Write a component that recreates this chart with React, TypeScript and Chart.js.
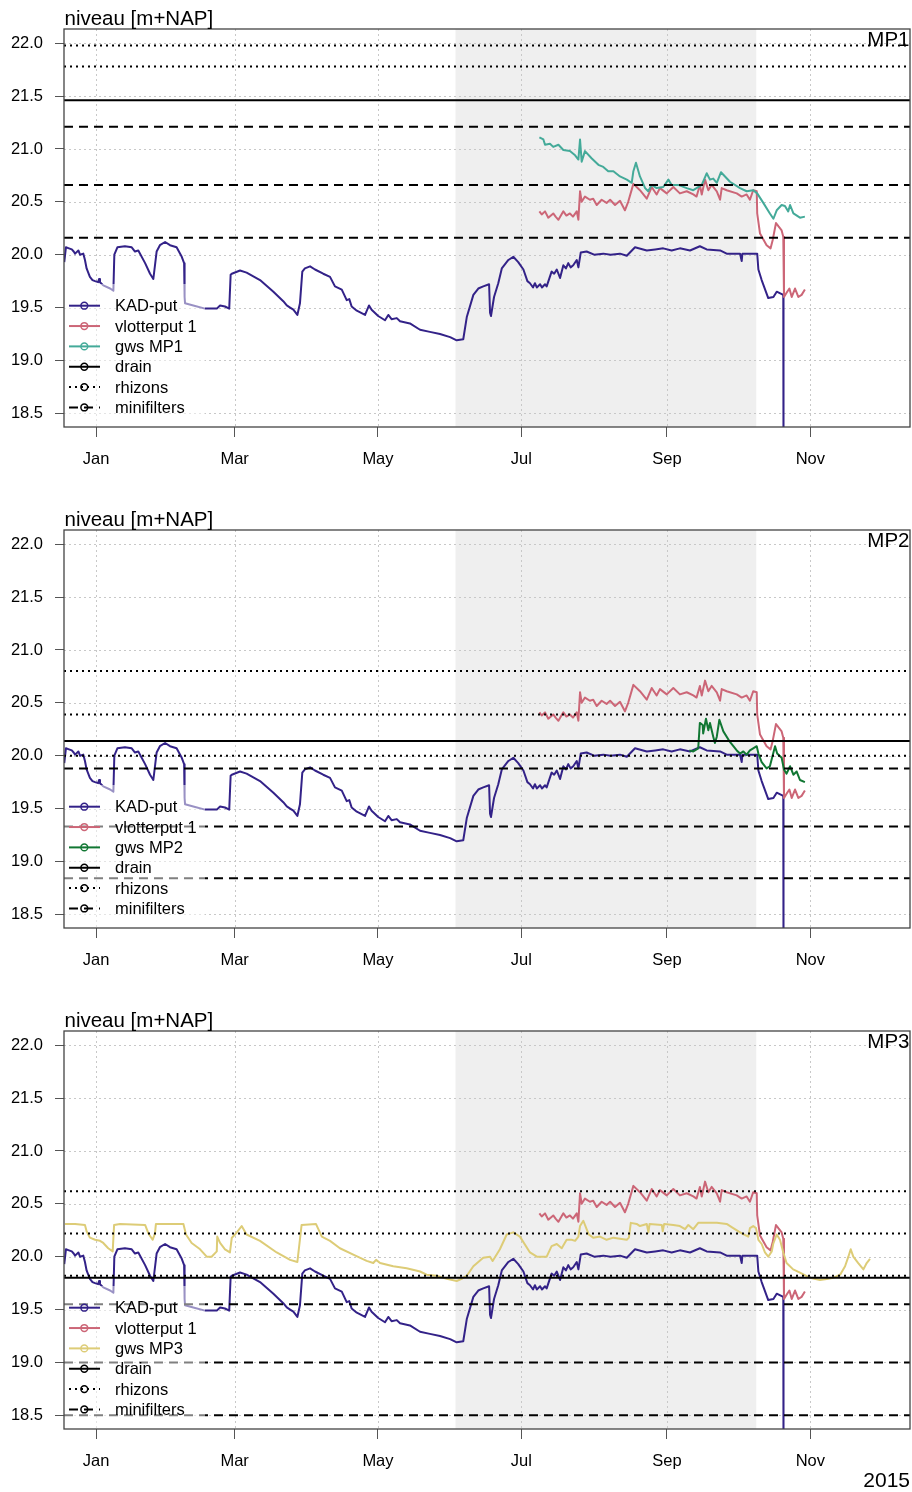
import React, { useEffect, useRef } from 'react';
import { Chart, registerables } from 'chart.js';

Chart.register(...registerables);

const FONT = '"Liberation Sans", Arial, Helvetica, sans-serif';

// ---- axes ----
const monthTickDays = [0, 59, 120, 181, 243, 304];
const monthTickLabels = ['Jan', 'Mar', 'May', 'Jul', 'Sep', 'Nov'];
const levelTicks = [18.5, 19.0, 19.5, 20.0, 20.5, 21.0, 21.5, 22.0];
const dayRange = [-13.62, 346.43];
const levelRange = [18.37, 22.135];
const shadedPeriod = [153, 281];
const yearLabel = '2015';

// ---- series: [day of 2015 (0 = 1 Jan), level m+NAP] ----
const kadPut: [number, number][] = [
  [-13.5, 19.93], [-12.8, 20.07], [-11.5, 20.06], [-10.3, 20.05], [-9.5, 20.03], [-8.9, 20.01], [-7.5, 20.04],
  [-6.8, 20.0], [-5.4, 20.01], [-4.7, 19.95], [-4.0, 19.87], [-2.6, 19.79], [-1.5, 19.76], [-0.4, 19.75],
  [0.9, 19.74], [1.3, 19.77], [1.7, 19.74], [3.1, 19.71], [6.0, 19.68], [7.4, 19.66], [7.8, 20.0], [9.1, 20.07],
  [12.3, 20.08], [15.2, 20.07], [16.6, 20.03], [18.0, 20.04], [20.9, 19.92], [23.0, 19.82], [24.4, 19.77],
  [25.8, 20.03], [27.2, 20.09], [29.4, 20.12], [31.5, 20.09], [34.3, 20.07], [36.5, 19.98], [37.5, 19.92],
  [37.7, 19.6], [37.9, 19.54], [41.4, 19.52], [46.4, 19.49], [51.4, 19.49], [52.8, 19.52], [54.9, 19.51],
  [56.7, 19.49], [57.3, 19.81], [57.8, 19.82], [61.3, 19.85], [64.1, 19.83], [69.8, 19.76], [75.5, 19.65],
  [79.7, 19.56], [81.2, 19.52], [82.6, 19.5], [84.0, 19.48], [85.7, 19.43], [86.8, 19.54], [87.8, 19.84],
  [88.9, 19.87], [91.1, 19.89], [93.2, 19.86], [96.7, 19.82], [99.6, 19.79], [101.7, 19.7], [104.6, 19.67],
  [106.7, 19.57], [107.8, 19.58], [108.8, 19.51], [111.0, 19.47], [114.5, 19.43], [116.2, 19.52], [117.3, 19.48],
  [120.1, 19.42], [123.0, 19.38], [124.4, 19.43], [125.8, 19.39], [128.0, 19.4], [129.4, 19.37], [133.6, 19.35],
  [137.9, 19.29], [142.1, 19.27], [146.4, 19.25], [150.7, 19.22], [153.5, 19.19], [156.3, 19.2], [157.8, 19.41],
  [160.6, 19.62], [162.7, 19.68], [164.8, 19.7], [167.3, 19.72], [167.7, 19.45], [168.1, 19.42], [169.4, 19.6],
  [171.2, 19.73], [172.7, 19.87], [175.5, 19.95], [177.6, 19.98], [179.7, 19.93], [181.9, 19.86], [183.6, 19.75],
  [184.7, 19.73], [186.0, 19.69], [186.8, 19.73], [187.6, 19.69], [189.0, 19.72], [189.8, 19.69], [191.1, 19.72],
  [191.8, 19.7], [193.9, 19.84], [195.0, 19.82], [196.1, 19.86], [197.5, 19.78], [198.9, 19.9], [200.0, 19.87],
  [201.0, 19.92], [202.0, 19.88], [203.1, 19.9], [204.6, 19.95], [205.3, 19.88], [206.3, 20.02], [208.8, 20.03],
  [212.0, 20.0], [215.9, 20.01], [219.0, 20.0], [223.0, 20.01], [225.9, 19.99], [229.4, 20.07], [234.4, 20.04],
  [238.0, 20.05], [241.4, 20.06], [245.0, 20.04], [248.5, 20.06], [252.8, 20.04], [257.0, 20.08], [259.9, 20.05],
  [265.6, 20.04], [268.4, 20.01], [274.1, 20.01], [274.8, 19.94], [275.1, 20.01], [281.4, 20.01], [281.9, 19.86],
  [283.3, 19.76], [286.1, 19.59], [288.3, 19.6], [289.7, 19.65], [292.5, 19.62], [292.6, 18.0],
];

const vlotterput1: [number, number][] = [
  [188.7, 20.41], [189.7, 20.38], [191.1, 20.41], [192.5, 20.35], [194.6, 20.39], [195.6, 20.36], [196.8, 20.33],
  [198.9, 20.41], [200.2, 20.37], [201.7, 20.39], [203.0, 20.36], [204.6, 20.41], [205.3, 20.33], [206.0, 20.6],
  [206.7, 20.5], [208.1, 20.55], [210.2, 20.52], [211.6, 20.53], [213.1, 20.47], [215.2, 20.52], [217.3, 20.49],
  [218.8, 20.52], [220.9, 20.47], [223.0, 20.51], [225.1, 20.42], [226.5, 20.5], [228.7, 20.67], [231.5, 20.61],
  [234.4, 20.53], [236.5, 20.64], [238.6, 20.57], [240.0, 20.63], [242.9, 20.58], [245.7, 20.64], [248.5, 20.58],
  [251.4, 20.6], [254.2, 20.57], [255.6, 20.55], [257.0, 20.66], [257.8, 20.57], [259.2, 20.71], [260.6, 20.61],
  [262.0, 20.66], [264.2, 20.6], [265.6, 20.52], [266.3, 20.63], [268.4, 20.61], [272.7, 20.58], [274.8, 20.55],
  [276.9, 20.57], [278.3, 20.52], [279.7, 20.61], [281.2, 20.6], [281.4, 20.39], [282.6, 20.2], [285.4, 20.09],
  [287.1, 20.06], [288.0, 20.14], [289.4, 20.3], [290.4, 20.27], [291.8, 20.23], [292.5, 20.17], [292.8, 19.6],
  [293.9, 19.64], [295.1, 19.68], [296.1, 19.6], [297.5, 19.68], [298.9, 19.6], [300.3, 19.62], [301.7, 19.67],
];

const gwsMP1: [number, number][] = [
  [188.7, 21.11], [190.4, 21.09], [191.1, 21.04], [193.2, 21.05], [194.6, 21.02], [196.8, 21.04], [198.9, 20.99],
  [201.7, 20.98], [203.9, 20.94], [205.3, 20.9], [206.0, 21.09], [206.7, 20.88], [208.1, 20.98], [211.0, 20.91],
  [213.8, 20.85], [215.9, 20.83], [218.0, 20.79], [220.2, 20.79], [223.0, 20.74], [225.9, 20.71], [228.0, 20.68],
  [228.7, 20.79], [229.8, 20.87], [231.5, 20.74], [233.7, 20.63], [235.0, 20.6], [236.5, 20.66], [238.6, 20.63],
  [241.4, 20.64], [243.6, 20.71], [245.0, 20.66], [247.8, 20.66], [251.4, 20.63], [254.2, 20.61], [257.8, 20.66],
  [259.9, 20.77], [261.3, 20.71], [262.7, 20.72], [264.2, 20.68], [266.0, 20.78], [267.7, 20.74], [269.8, 20.69],
  [274.1, 20.63], [276.9, 20.6], [279.7, 20.61], [281.4, 20.58], [284.0, 20.49], [286.8, 20.39], [288.3, 20.34],
  [289.7, 20.42], [291.8, 20.47], [293.2, 20.46], [294.6, 20.41], [295.4, 20.47], [296.8, 20.39], [299.6, 20.35],
  [301.7, 20.36],
];

const gwsMP2: [number, number][] = [
  [252.5, 20.05], [254.2, 20.04], [256.3, 20.07], [257.0, 20.31], [258.2, 20.29], [258.4, 20.21], [259.6, 20.35],
  [260.6, 20.24], [261.3, 20.31], [262.7, 20.18], [263.4, 20.12], [264.2, 20.18], [265.3, 20.34], [267.0, 20.23],
  [269.8, 20.13], [272.7, 20.05], [274.1, 20.02], [275.5, 20.04], [276.9, 20.01], [278.3, 20.05], [279.7, 20.07],
  [281.2, 20.09], [281.9, 20.02], [283.3, 19.94], [285.4, 19.88], [286.8, 19.9], [289.0, 20.09], [289.9, 20.02],
  [291.8, 19.98], [292.8, 19.87], [293.9, 19.83], [295.4, 19.9], [296.8, 19.82], [298.2, 19.85], [299.6, 19.77],
  [301.7, 19.75],
];

const gwsMP3: [number, number][] = [
  [-13.2, 20.31], [-8.9, 20.31], [-4.7, 20.3], [-4.0, 20.24], [-2.6, 20.18], [-0.4, 20.16], [1.7, 20.15],
  [3.1, 20.13], [5.2, 20.08], [7.1, 20.05], [7.7, 20.3], [10.2, 20.31], [20.9, 20.3], [22.3, 20.22], [24.1, 20.16],
  [25.1, 20.22], [25.5, 20.31], [37.2, 20.31], [38.3, 20.21], [40.7, 20.13], [44.3, 20.07], [47.1, 20.0],
  [49.2, 20.0], [51.4, 20.05], [51.6, 20.19], [52.8, 20.13], [54.9, 20.07], [57.0, 20.04], [57.8, 20.18],
  [59.2, 20.21], [62.0, 20.29], [64.1, 20.21], [69.8, 20.15], [76.9, 20.04], [82.6, 19.97], [85.7, 19.95],
  [87.5, 20.3], [93.6, 20.31], [96.1, 20.19], [99.6, 20.15], [103.8, 20.08], [109.5, 20.02], [115.2, 19.96],
  [118.0, 19.94], [119.2, 19.97], [120.9, 19.94], [126.5, 19.91], [132.2, 19.89], [137.9, 19.86], [140.7, 19.83],
  [145.0, 19.82], [149.3, 19.79], [153.5, 19.77], [155.6, 19.79], [157.8, 19.82], [160.6, 19.91], [164.8, 19.99],
  [167.7, 20.0], [168.8, 19.96], [171.9, 20.07], [174.8, 20.21], [177.6, 20.23], [180.4, 20.19], [184.7, 20.04],
  [187.6, 20.0], [191.8, 20.0], [193.9, 20.1], [196.1, 20.12], [198.2, 20.08], [200.3, 20.16], [202.4, 20.16],
  [203.9, 20.15], [205.3, 20.19], [206.0, 20.29], [207.4, 20.34], [208.8, 20.26], [209.7, 20.21], [211.6, 20.18],
  [214.5, 20.19], [217.3, 20.16], [220.2, 20.18], [223.0, 20.17], [225.9, 20.16], [226.8, 20.18], [227.6, 20.32],
  [230.1, 20.31], [231.5, 20.29], [234.4, 20.31], [235.1, 20.23], [235.6, 20.31], [240.8, 20.3], [241.2, 20.24],
  [241.8, 20.31], [245.7, 20.3], [248.5, 20.29], [250.7, 20.26], [252.1, 20.3], [254.2, 20.26], [256.3, 20.32],
  [259.9, 20.32], [264.2, 20.32], [268.4, 20.31], [271.2, 20.27], [274.8, 20.22], [277.6, 20.19], [278.3, 20.27],
  [279.7, 20.29], [280.9, 20.27], [281.9, 20.16], [283.3, 20.12], [284.7, 20.04], [286.1, 20.0], [287.6, 20.05],
  [288.2, 20.12], [289.7, 20.21], [291.1, 20.16], [292.5, 20.04], [293.9, 19.94], [296.7, 19.88], [299.6, 19.85],
  [303.9, 19.8], [308.1, 19.78], [311.0, 19.79], [313.8, 19.8], [316.7, 19.83], [318.8, 19.91], [320.2, 20.0],
  [321.2, 20.07], [322.3, 20.0], [324.4, 19.94], [326.6, 19.88], [328.0, 19.94], [329.4, 19.98],
];

// ---- reference levels per measuring point ----
const drainMP1 = [21.46];
const rhizonsMP1 = [21.98, 21.78];
const minifiltersMP1 = [21.21, 20.66, 20.16];
const drainMP2 = [20.14];
const rhizonsMP2 = [20.8, 20.39, 20.0];
const minifiltersMP2 = [19.88, 19.33, 18.84];
const drainMP3 = [19.8];
const rhizonsMP3 = [20.62, 20.22, 19.82];
const minifiltersMP3 = [19.55, 19.0, 18.5];

const KAD_COLOR = '#332288';
const ROSE = '#CC6677';
const TEAL = '#44AA99';
const GREEN = '#117733';
const SAND = '#DDCC77';
const DOTTED = [2, 4];
const DASHED = [9, 6];
const SERIES_W = 2;

type Panel = {
  name: string;
  gwsLabel: string;
  gws: [number, number][];
  gwsColor: string;
  drain: number[];
  rhizons: number[];
  minifilters: number[];
  height: number;
  showYear: boolean;
};

const panels: Panel[] = [
  { name: 'MP1', gwsLabel: 'gws MP1', gws: gwsMP1, gwsColor: TEAL, drain: drainMP1, rhizons: rhizonsMP1, minifilters: minifiltersMP1, height: 501, showYear: false },
  { name: 'MP2', gwsLabel: 'gws MP2', gws: gwsMP2, gwsColor: GREEN, drain: drainMP2, rhizons: rhizonsMP2, minifilters: minifiltersMP2, height: 501, showYear: false },
  { name: 'MP3', gwsLabel: 'gws MP3', gws: gwsMP3, gwsColor: SAND, drain: drainMP3, rhizons: rhizonsMP3, minifilters: minifiltersMP3, height: 490, showYear: true },
];

const TOP_PAD = 29;
const PLOT_H = 398;

const toXY = (arr: [number, number][]) => arr.map(([x, y]) => ({ x, y }));
const hLine = (v: number) => [{ x: dayRange[0], y: v }, { x: dayRange[1], y: v }];

function makeDecorPlugin(panel: Panel) {
  const legendItems = [
    { label: 'KAD-put', color: KAD_COLOR, dash: [] as number[] },
    { label: 'vlotterput 1', color: ROSE, dash: [] as number[] },
    { label: panel.gwsLabel, color: panel.gwsColor, dash: [] as number[] },
    { label: 'drain', color: '#000', dash: [] as number[] },
    { label: 'rhizons', color: '#000', dash: DOTTED },
    { label: 'minifilters', color: '#000', dash: DASHED },
  ];
  return {
    id: 'decor' + panel.name,
    beforeDatasetsDraw(chart: any) {
      const { ctx, chartArea: a, scales } = chart;
      const xs = scales.x;
      const ys = scales.y;
      ctx.save();
      const s0 = xs.getPixelForValue(shadedPeriod[0]);
      const s1 = xs.getPixelForValue(shadedPeriod[1]);
      ctx.fillStyle = '#efefef';
      ctx.fillRect(s0, a.top, s1 - s0, a.bottom - a.top);
      ctx.strokeStyle = '#c8c8c8';
      ctx.lineWidth = 1;
      ctx.setLineDash([2, 3]);
      monthTickDays.forEach((d) => {
        const px = Math.round(xs.getPixelForValue(d)) + 0.5;
        ctx.beginPath();
        ctx.moveTo(px, a.top);
        ctx.lineTo(px, a.bottom);
        ctx.stroke();
      });
      levelTicks.forEach((v) => {
        const py = Math.round(ys.getPixelForValue(v)) + 0.5;
        ctx.beginPath();
        ctx.moveTo(a.left, py);
        ctx.lineTo(a.right, py);
        ctx.stroke();
      });
      ctx.restore();
    },
    afterDatasetsDraw(chart: any) {
      const { ctx, chartArea: a } = chart;
      ctx.save();
      // legend (semi-transparent box, bottom-left)
      const boxH = 143;
      ctx.fillStyle = 'rgba(255,255,255,0.5)';
      ctx.fillRect(a.left, a.bottom - boxH, 141, boxH);
      ctx.font = '16.5px ' + FONT;
      ctx.textBaseline = 'middle';
      ctx.textAlign = 'left';
      legendItems.forEach((it, i) => {
        const y = a.bottom - 121.3 + i * 20.35;
        ctx.strokeStyle = it.color;
        ctx.lineWidth = 2;
        ctx.setLineDash(it.dash);
        ctx.beginPath();
        ctx.moveTo(a.left + 5, y);
        ctx.lineTo(a.left + 36, y);
        ctx.stroke();
        ctx.setLineDash([]);
        ctx.lineWidth = 1.5;
        ctx.beginPath();
        ctx.arc(a.left + 20.3, y, 3.4, 0, Math.PI * 2);
        ctx.stroke();
        ctx.fillStyle = '#000';
        ctx.fillText(it.label, a.left + 51, y + 1);
      });
      // plot box
      ctx.setLineDash([]);
      ctx.strokeStyle = '#444';
      ctx.lineWidth = 1.3;
      ctx.strokeRect(a.left, a.top, a.right - a.left, a.bottom - a.top);
      // texts
      ctx.fillStyle = '#000';
      ctx.font = '20.5px ' + FONT;
      ctx.textBaseline = 'alphabetic';
      ctx.textAlign = 'left';
      ctx.fillText('niveau [m+NAP]', a.left + 0.5, a.top - 4);
      ctx.textAlign = 'right';
      ctx.fillText(panel.name, a.right - 0.5, a.top + 16.7);
      if (panel.showYear) {
        ctx.font = '21px ' + FONT;
        ctx.fillText(yearLabel, a.right, chart.height - 5);
      }
      ctx.restore();
    },
  };
}

function buildConfig(panel: Panel): any {
  const refSets: any[] = [];
  panel.drain.forEach((v) =>
    refSets.push({ label: 'drain', data: hLine(v), borderColor: '#000', borderWidth: 2, borderDash: [], order: 0 })
  );
  panel.rhizons.forEach((v) =>
    refSets.push({ label: 'rhizons', data: hLine(v), borderColor: '#000', borderWidth: 2, borderDash: DOTTED, order: 0 })
  );
  panel.minifilters.forEach((v) =>
    refSets.push({ label: 'minifilters', data: hLine(v), borderColor: '#000', borderWidth: 2, borderDash: DASHED, order: 0 })
  );
  const seriesSets = [
    { label: 'KAD-put', data: toXY(kadPut), borderColor: KAD_COLOR, borderWidth: SERIES_W, order: 3 },
    { label: 'vlotterput 1', data: toXY(vlotterput1), borderColor: ROSE, borderWidth: SERIES_W, order: 2 },
    { label: panel.gwsLabel, data: toXY(panel.gws), borderColor: panel.gwsColor, borderWidth: SERIES_W, order: 1 },
  ];
  const xAxisH = panel.height - TOP_PAD - PLOT_H;
  return {
    type: 'line',
    data: { datasets: [...seriesSets, ...refSets] },
    options: {
      animation: false,
      responsive: false,
      events: [],
      layout: { padding: { top: TOP_PAD, right: 2, left: 0, bottom: 0 } },
      elements: { point: { radius: 0 }, line: { tension: 0, fill: false, borderCapStyle: 'butt', borderJoinStyle: 'round' } },
      plugins: { legend: { display: false }, tooltip: { enabled: false }, title: { display: false } },
      scales: {
        x: {
          type: 'linear',
          min: dayRange[0],
          max: dayRange[1],
          afterFit: (s: any) => {
            s.height = xAxisH;
          },
          afterBuildTicks: (s: any) => {
            s.ticks = monthTickDays.map((v) => ({ value: v }));
          },
          ticks: {
            autoSkip: false,
            maxRotation: 0,
            minRotation: 0,
            padding: 13,
            color: '#000',
            font: { size: 16.5, family: FONT },
            callback: (v: number) => monthTickLabels[monthTickDays.indexOf(v)],
          },
          grid: { display: true, drawOnChartArea: false, drawTicks: true, tickLength: 10, color: '#555', lineWidth: 1 },
          border: { display: false },
        },
        y: {
          type: 'linear',
          min: levelRange[0],
          max: levelRange[1],
          afterFit: (s: any) => {
            s.width = 64;
          },
          afterBuildTicks: (s: any) => {
            s.ticks = levelTicks.map((v) => ({ value: v }));
          },
          ticks: {
            padding: 12,
            color: '#000',
            font: { size: 16.5, family: FONT },
            callback: (v: number) => Number(v).toFixed(1),
          },
          grid: { display: true, drawOnChartArea: false, drawTicks: true, tickLength: 9, color: '#555', lineWidth: 1 },
          border: { display: false },
        },
      },
    },
    plugins: [makeDecorPlugin(panel)],
  };
}

function PanelChart({ panel }: { panel: Panel }) {
  const ref = useRef<HTMLCanvasElement | null>(null);
  useEffect(() => {
    if (!ref.current) return;
    const chart = new Chart(ref.current, buildConfig(panel));
    return () => chart.destroy();
  }, [panel]);
  return (
    <canvas
      ref={ref}
      width={912}
      height={panel.height}
      style={{ display: 'block', width: 912, height: panel.height }}
    />
  );
}

export default function App() {
  return (
    <div style={{ position: 'absolute', left: 0, top: 0, width: 912, height: 1492, background: '#fff' }}>
      {panels.map((p) => (
        <PanelChart key={p.name} panel={p} />
      ))}
    </div>
  );
}
